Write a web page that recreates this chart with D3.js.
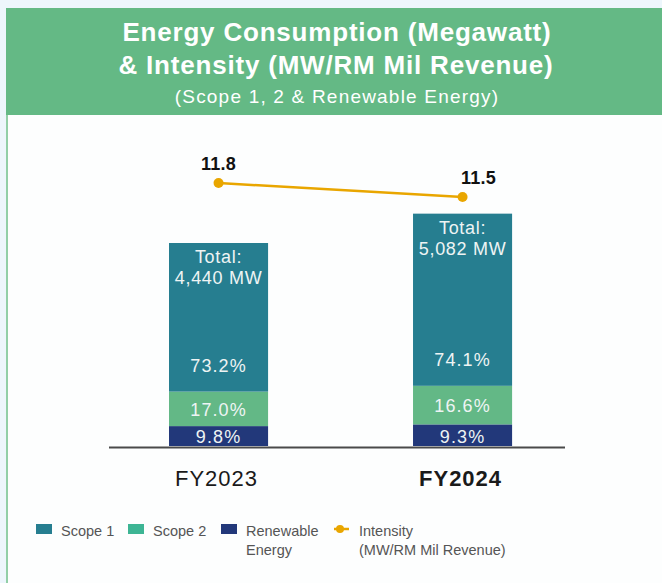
<!DOCTYPE html>
<html>
<head>
<meta charset="utf-8">
<script src="https://cdn.jsdelivr.net/npm/d3@7"></script>
<style>
  html, body { margin: 0; padding: 0; background: #edf6fc; }
  svg { display: block; font-family: "Liberation Sans", Arial, sans-serif; }
</style>
</head>
<body>
<div id="chart"></div>
<script>
const years = ['FY2023', 'FY2024'];
const totals = [4440, 5082];
const scope1Pct = [73.2, 74.1];
const scope2Pct = [17.0, 16.6];
const renewablePct = [9.8, 9.3];
const intensity = [11.8, 11.5];

const width = 662;
const height = 583;

const TEAL = '#267e90';
const GREEN = '#63b886';
const NAVY = '#22387a';
const ORANGE = '#e9a600';

const svg = d3.select('#chart')
  .append('svg')
  .attr('width', width)
  .attr('height', height);

// Panel background and header.
svg.append('rect')
  .attr('x', 6).attr('y', 8)
  .attr('width', width - 6).attr('height', height - 8)
  .attr('fill', '#fdfefe');

svg.append('rect')
  .attr('x', 6).attr('y', 115)
  .attr('width', 2).attr('height', height - 115)
  .attr('fill', '#92cfa7');

svg.append('rect')
  .attr('x', 6).attr('y', 8)
  .attr('width', width - 6).attr('height', 107)
  .attr('fill', '#64b985');

const title = svg.append('g').attr('fill', '#ffffff').attr('text-anchor', 'middle');
title.append('text')
  .attr('x', 337).attr('y', 41)
  .style('font-size', '26px').style('font-weight', 'bold')
  .style('letter-spacing', '0.8px')
  .text('Energy Consumption (Megawatt)');
title.append('text')
  .attr('x', 336).attr('y', 74)
  .style('font-size', '26px').style('font-weight', 'bold')
  .style('letter-spacing', '0.8px')
  .text('& Intensity (MW/RM Mil Revenue)');
title.append('text')
  .attr('x', 337).attr('y', 103)
  .style('font-size', '19px')
  .style('letter-spacing', '1.2px')
  .text('(Scope 1, 2 & Renewable Energy)');

// Scales.
const x = d3.scaleBand()
  .domain(years)
  .range([95.8, 585.3])
  .paddingInner(0.594)
  .paddingOuter(0.3);

const y = d3.scaleLinear()
  .domain([0, 4440])
  .range([446, 243]);

const yLine = d3.scaleLinear()
  .domain([11.5, 11.8])
  .range([197, 183]);

// Stack the segments (MW from percentage of total).
const rows = years.map((year, i) => ({
  year,
  renewable: totals[i] * renewablePct[i] / 100,
  scope2: totals[i] * scope2Pct[i] / 100,
  scope1: totals[i] * scope1Pct[i] / 100
}));
const keys = ['renewable', 'scope2', 'scope1'];
const colours = { renewable: NAVY, scope2: GREEN, scope1: TEAL };
const pcts = { renewable: renewablePct, scope2: scope2Pct, scope1: scope1Pct };
const series = d3.stack().keys(keys)(rows);

svg.append('g')
  .selectAll('g')
  .data(series)
  .join('g')
  .attr('fill', d => colours[d.key])
  .selectAll('rect')
  .data(d => d)
  .join('rect')
  .attr('x', d => x(d.data.year))
  .attr('y', d => y(d[1]))
  .attr('width', x.bandwidth())
  .attr('height', d => y(d[0]) - y(d[1]));

// Percentage labels.
const pctLabels = svg.append('g')
  .attr('fill', '#eef4f4')
  .attr('text-anchor', 'middle')
  .style('font-size', '18px')
  .style('letter-spacing', '1.1px');

series.forEach(s => {
  pctLabels.selectAll(null)
    .data(s)
    .join('text')
    .attr('x', d => x(d.data.year) + x.bandwidth() / 2)
    .attr('y', d => {
      if (s.key === 'renewable') return y(d[0]) - 3;
      if (s.key === 'scope2') return (y(d[0]) + y(d[1])) / 2 + 7;
      return y(d[0]) - 20;
    })
    .text((d, i) => pcts[s.key][i].toFixed(1) + '%');
});

// Total labels.
const totalLabels = svg.append('g')
  .attr('fill', '#eef4f4')
  .attr('text-anchor', 'middle')
  .style('font-size', '18px')
  .style('letter-spacing', '0.7px');

totalLabels.selectAll('.t1')
  .data(years)
  .join('text')
  .attr('x', d => x(d) + x.bandwidth() / 2)
  .attr('y', (d, i) => y(totals[i]) + 20)
  .text('Total:');

totalLabels.selectAll('.t2')
  .data(years)
  .join('text')
  .attr('x', d => x(d) + x.bandwidth() / 2)
  .attr('y', (d, i) => y(totals[i]) + 41)
  .text((d, i) => d3.format(',')(totals[i]) + ' MW');

// Baseline axis.
svg.append('line')
  .attr('x1', 109).attr('x2', 565)
  .attr('y1', 447.5).attr('y2', 447.5)
  .attr('stroke', '#4a4a4a')
  .attr('stroke-width', 2);

// Category labels.
svg.append('g')
  .attr('text-anchor', 'middle')
  .attr('fill', '#1a1a1a')
  .style('font-size', '22px')
  .style('letter-spacing', '1px')
  .selectAll('text')
  .data(years)
  .join('text')
  .attr('x', d => x(d) + x.bandwidth() / 2 - 2)
  .attr('y', 486)
  .style('font-weight', (d, i) => i === years.length - 1 ? 'bold' : 'normal')
  .text(d => d);

// Intensity line.
const line = d3.line()
  .x((d, i) => x(years[i]) + x.bandwidth() / 2)
  .y(d => yLine(d));

svg.append('path')
  .datum(intensity)
  .attr('d', line)
  .attr('fill', 'none')
  .attr('stroke', ORANGE)
  .attr('stroke-width', 2.5);

svg.append('g')
  .selectAll('circle')
  .data(intensity)
  .join('circle')
  .attr('cx', (d, i) => x(years[i]) + x.bandwidth() / 2)
  .attr('cy', d => yLine(d))
  .attr('r', 5)
  .attr('fill', ORANGE);

svg.append('g')
  .attr('text-anchor', 'middle')
  .attr('fill', '#111')
  .style('font-size', '18px')
  .style('font-weight', 'bold')
  .style('letter-spacing', '0.3px')
  .selectAll('text')
  .data(intensity)
  .join('text')
  .attr('x', (d, i) => x(years[i]) + x.bandwidth() / 2 + (i === 0 ? 0 : 16))
  .attr('y', d => yLine(d) - 13)
  .text(d => d.toFixed(1));

// Legend.
const legendItems = [
  { label: ['Scope 1'], colour: TEAL, x: 36, type: 'rect' },
  { label: ['Scope 2'], colour: '#3db594', x: 128, type: 'rect' },
  { label: ['Renewable', 'Energy'], colour: NAVY, x: 221, type: 'rect' },
  { label: ['Intensity', '(MW/RM Mil Revenue)'], colour: ORANGE, x: 334, type: 'line' }
];

const legend = svg.append('g')
  .style('font-size', '14.5px')
  .attr('fill', '#555');

legendItems.forEach(item => {
  const g = legend.append('g').attr('transform', `translate(${item.x},524)`);
  if (item.type === 'rect') {
    g.append('rect')
      .attr('width', 16).attr('height', 10)
      .attr('fill', item.colour);
  } else {
    g.append('line')
      .attr('x1', 0).attr('x2', 15)
      .attr('y1', 5).attr('y2', 5)
      .attr('stroke', item.colour)
      .attr('stroke-width', 2.5);
    g.append('circle')
      .attr('cx', 6).attr('cy', 5).attr('r', 4)
      .attr('fill', item.colour);
  }
  g.selectAll('text')
    .data(item.label)
    .join('text')
    .attr('x', 25)
    .attr('y', (d, i) => 12 + i * 19)
    .text(d => d);
});
</script>
</body>
</html>
